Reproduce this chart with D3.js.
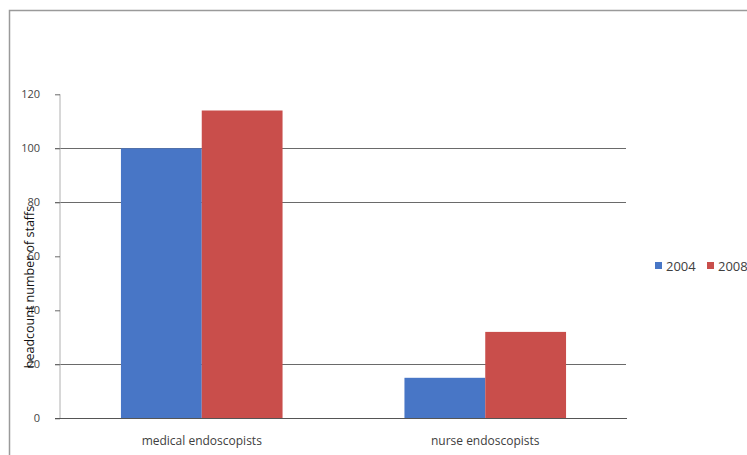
<!DOCTYPE html>
<html><head><meta charset="utf-8">
<script src="https://cdn.jsdelivr.net/npm/d3@7/dist/d3.min.js"></script>
<style>body{margin:0;background:#fff;overflow:hidden}</style>
</head><body>
<svg id="c" width="747" height="455"></svg>
<script>
const categories = ["medical endoscopists", "nurse endoscopists"];
const seriesNames = ["2004", "2008"];
const values2004 = [100, 15];
const values2008 = [114, 32];
const yTicks = [0, 20, 40, 60, 80, 100, 120];
const gridTicks = [20, 80, 100];
const colors = ["#4876C6", "#C94E4B"];

const svg = d3.select("#c");
const font = "'Open Sans', 'DejaVu Sans', sans-serif";

// frame
svg.append("path").attr("d", "M9.5,460 V10.5 H760").attr("fill", "none").attr("stroke", "#9a9a9a").attr("stroke-width", 1.5);

const x0 = d3.scaleBand().domain(categories).range([60, 627]).paddingInner(0.43).paddingOuter(0.215);
const x1 = d3.scaleBand().domain(seriesNames).range([0, x0.bandwidth()]);
const y = d3.scaleLinear().domain([0, 120]).range([418.3, 94.3]);

// gridlines
svg.append("g").selectAll("line").data(gridTicks).join("line")
  .attr("x1", 55).attr("x2", 626).attr("y1", d => Math.round(y(d)) + 0.5).attr("y2", d => Math.round(y(d)) + 0.5)
  .attr("stroke", "#6a6a6a").attr("stroke-width", 1);

// bars
const data = categories.map((c, i) => ({c, vals: [values2004[i], values2008[i]]}));
svg.append("g").selectAll("g").data(data).join("g")
  .attr("transform", d => `translate(${x0(d.c)},0)`)
  .selectAll("rect").data(d => d.vals.map((v, j) => ({v, s: seriesNames[j], j}))).join("rect")
  .attr("x", d => x1(d.s)).attr("width", x1.bandwidth())
  .attr("y", d => y(d.v)).attr("height", d => y(0) - y(d.v))
  .attr("fill", d => colors[d.j]);

// y axis
const yAxis = d3.axisLeft(y).tickValues(yTicks).tickSize(5).tickPadding(15);
const ya = svg.append("g").attr("transform", "translate(60,0)").call(yAxis);
ya.select(".domain").attr("stroke", "#b0b0b0").attr("d", `M0,${y(120)}V${y(0)}`);
ya.selectAll(".tick line").attr("stroke", "#6a6a6a");
ya.selectAll(".tick text").attr("font-family", font).attr("font-size", 11).attr("fill", "#444");

// x axis
const xa = svg.append("g").attr("transform", `translate(0,${Math.round(y(0)) + 0.5})`)
  .call(d3.axisBottom(x0).tickSize(0).tickPadding(18));
xa.select(".domain").attr("stroke", "#555").attr("d", "M55,0H627");
xa.selectAll(".tick text").attr("font-family", font).attr("font-size", 12).attr("fill", "#404040");

// y title
svg.append("text").attr("transform", "translate(34,287) rotate(-90)")
  .attr("text-anchor", "middle").attr("font-family", font).attr("font-size", 12.5).attr("fill", "#111")
  .text("headcount number of staffs");

// legend
const lg = svg.append("g").attr("transform", "translate(655,266)");
const items = lg.selectAll("g").data(seriesNames).join("g").attr("transform", (d, i) => `translate(${i * 52},0)`);
items.append("rect").attr("x", 0).attr("y", -4).attr("width", 7).attr("height", 7).attr("fill", (d, i) => colors[i]);
items.append("text").attr("x", 11).attr("y", 4.5).attr("font-family", font).attr("font-size", 13).attr("fill", "#404040").text(d => d);
</script>
</body></html>
